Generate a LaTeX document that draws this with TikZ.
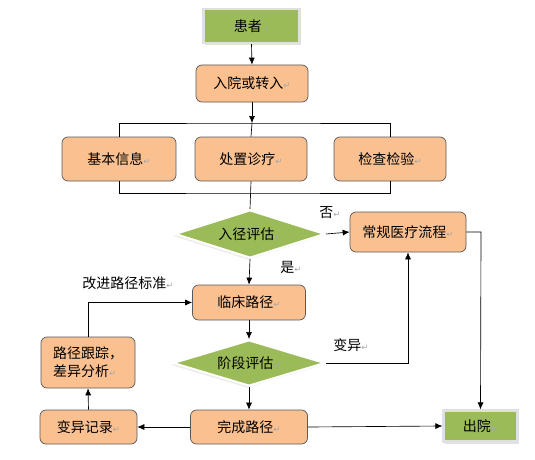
\documentclass[tikz,border=0pt]{standalone}
\usepackage{fontspec}
\setmainfont{Noto Sans CJK SC}
\newfontfamily\symfont{DejaVu Sans}
\usetikzlibrary{arrows.meta,shapes.geometric,shadows}
\definecolor{gfill}{HTML}{9BBB59}
\definecolor{ofill}{HTML}{FAC090}
\newcommand\retmark{{\symfont\fontsize{8.5}{8.5}\selectfont\color{black!35}↵}}
\begin{document}
\begin{tikzpicture}[x=1pt,y=-1pt,
  font=\fontsize{14}{18}\selectfont,
  obox/.style={draw=black!65, fill=ofill, rounded corners=6pt, line width=0.7pt, inner sep=2pt},
  gbox/.style={draw=black!12, fill=gfill, line width=2.2pt, inner sep=2pt,
    drop shadow={shadow xshift=1.5pt, shadow yshift=-2pt, fill=black!22}},
  gdia/.style={diamond, draw=white, fill=gfill, line width=2pt, inner sep=0pt, aspect=3.1,
    drop shadow={shadow xshift=-2pt, shadow yshift=-2pt, fill=black!15}},
  lbl/.style={inner sep=1pt},
  arr/.style={-{Latex[length=7pt,width=6pt]}},
  line width=0.65pt]
\useasboundingbox (0,0) rectangle (535,460);

% nodes
\node[gbox, minimum width=96pt, minimum height=34pt] (huanzhe) at (251.5,26) {患者\retmark};
\node[obox, minimum width=112pt, minimum height=37pt] (ruyuan) at (252,83.5) {入院或转入\retmark};
\node[obox, minimum width=114pt, minimum height=44pt] (jiben) at (119,159) {基本信息\retmark};
\node[obox, minimum width=112pt, minimum height=44pt] (chuzhi) at (251,159) {处置诊疗\retmark};
\node[obox, minimum width=112pt, minimum height=44pt] (jiancha) at (390,159) {检查检验\retmark};
\node[gdia, minimum width=150pt, minimum height=48pt] (rujing) at (250,234) {入径评估\retmark};
\node[obox, minimum width=116pt, minimum height=40pt] (changgui) at (408,232) {常规医疗流程\retmark};
\node[obox, minimum width=113pt, minimum height=35pt] (linchuang) at (249,302.5) {临床路径\retmark};
\node[gdia, minimum width=152pt, minimum height=46pt] (jieduan) at (249,363) {阶段评估\retmark};
\node[obox, minimum width=117pt, minimum height=34pt] (wancheng) at (249,427) {完成路径\retmark};
\node[obox, minimum width=97pt, minimum height=34pt] (bianyi) at (88.5,427) {变异记录\retmark};
\node[obox, minimum width=94pt, minimum height=51pt, align=left] (genzong) at (88,362.5)
  {路径跟踪，\\差异分析\retmark};
\node[gbox, minimum width=74pt, minimum height=31pt] (chuyuan) at (480.5,426) {出院\retmark};

% labels
\node[lbl] (lfou) at (330,213) {否\retmark};
\node[lbl] (lshi) at (291,267) {是\retmark};
\node[lbl] (lgaijin) at (128,283) {改进路径标准\retmark};
\node[lbl] (lbianyi) at (351,345) {变异\retmark};

% bracket coordinates
\coordinate (btop) at (252,123);
\coordinate (bbot) at (251,193);
\coordinate (vturn) at (408,363);
\coordinate (cturn) at (481,232);
\coordinate (gturn) at (88,302.5);

% connectors
\draw[arr] (huanzhe.south) -- (ruyuan.north);
\draw[arr] (ruyuan.south) -- (btop);
\draw (jiben.north) |- (btop) -| (jiancha.north);
\draw (btop) -- (chuzhi.north);
\draw (jiben.south) |- (bbot) -| (jiancha.south);
\draw (chuzhi.south) -- (rujing.north);
\draw[arr] (rujing.east) -- (changgui.west);
\draw[arr] (rujing.south) -- (linchuang.north);
\draw[arr] (linchuang.south) -- (jieduan.north);
\draw[arr] (jieduan.east) -- (vturn) -- (changgui.south);
\draw[arr] (jieduan.south) -- (wancheng.north);
\draw[arr] (changgui.east) -- (cturn) -- (chuyuan.north);
\draw[arr] (wancheng.east) -- (chuyuan.west);
\draw[arr] (wancheng.west) -- (bianyi.east);
\draw[arr] (bianyi.north) -- (genzong.south);
\draw[arr] (genzong.north) -- (gturn) -- (linchuang.west);
\end{tikzpicture}
\end{document}
